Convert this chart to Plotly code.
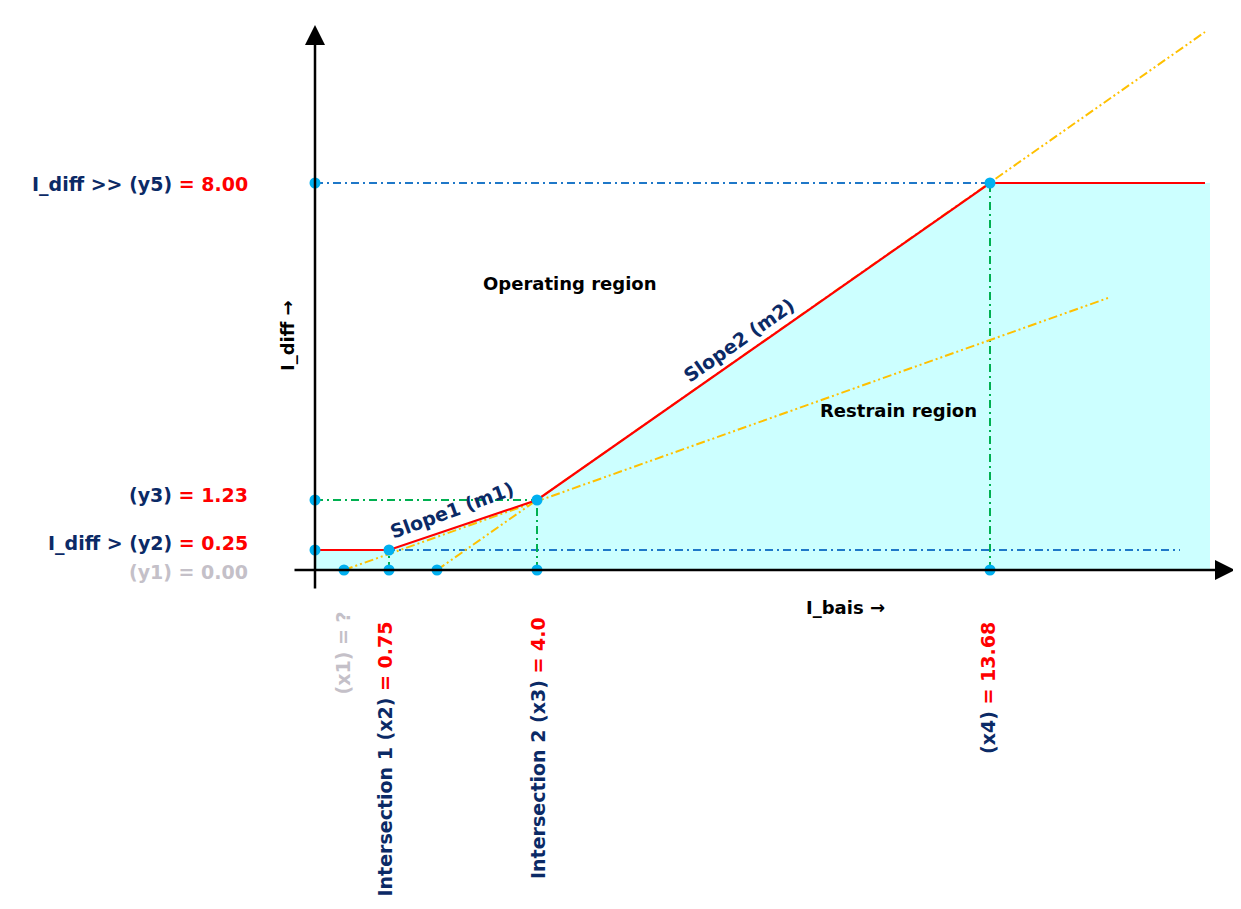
import plotly.graph_objects as go

# ---- schematic positions (diagram units; origin = axes crossing) ----
x_pts = {"x1": 2.9, "x2": 7.4, "xk": 12.2, "x3": 22.2, "x4": 67.5}
y_pts = {"y1": 0.0, "y2": 2.0, "y3": 7.0, "y5": 38.7}
x_end_red = 89.0
x_end_fill = 89.5
x_end_blue = 86.5
x_axis_span = [-2.2, 92.0]
y_axis_span = [-2.0, 54.5]
orange1 = ([2.9, 79.3], [0.0, 27.2])
orange2 = ([12.2, 89.0], [0.0, 53.8])

# ---- label values ----
val_labels_y = [("I_diff >> (y5)", "= 8.00", "y5"),
                ("(y3)", "= 1.23", "y3"),
                ("I_diff > (y2)", "= 0.25", "y2")]
y1_label = "(y1) = 0.00"
x1_label = "(x1) = ?"
x_val_labels = [("Intersection 1 (x2)", "= 0.75", "x2"),
                ("Intersection 2 (x3)", "= 4.0", "x3"),
                ("(x4)", "= 13.68", "x4")]

NAVY = "#0b2a66"
RED = "#ff0000"
GRAY = "#c4c0c8"
CYAN = "#ccffff"
BLUE = "#1f78c8"
GREEN = "#00b050"
ORANGE = "#ffc000"
MARK = "#00b0f0"
FONT = "DejaVu Sans"
LS = 19   # label font size
RS = 18   # region font size

X2, X3, X4 = x_pts["x2"], x_pts["x3"], x_pts["x4"]
Y2, Y3, Y5 = y_pts["y2"], y_pts["y3"], y_pts["y5"]

fig = go.Figure()

# restrain region fill
fig.add_trace(go.Scatter(
    x=[0, 0, X2, X3, X4, x_end_fill, x_end_fill, 0],
    y=[0, Y2, Y2, Y3, Y5, Y5, 0, 0],
    fill="toself", fillcolor=CYAN, line=dict(width=0), mode="lines",
    hoverinfo="skip"))

dash_bd = "8px,4px,2px,4px"
for yy in (Y5, Y2):
    fig.add_trace(go.Scatter(x=[0, x_end_blue], y=[yy, yy], mode="lines",
                             line=dict(color=BLUE, width=2, dash=dash_bd)))
for xs, ys in (([0, X3], [Y3, Y3]), ([X3, X3], [0, Y3]),
               ([X4, X4], [0, Y5]), ([X2, X2], [0, Y2])):
    fig.add_trace(go.Scatter(x=xs, y=ys, mode="lines",
                             line=dict(color=GREEN, width=2, dash=dash_bd)))
dash_o = "9px,3px,2px,3px,2px,3px"
for xs, ys in (orange1, orange2):
    fig.add_trace(go.Scatter(x=xs, y=ys, mode="lines",
                             line=dict(color=ORANGE, width=2, dash=dash_o)))
fig.add_trace(go.Scatter(x=[0, X2, X3, X4, x_end_red], y=[Y2, Y2, Y3, Y5, Y5],
                         mode="lines", line=dict(color=RED, width=2.2)))

mx = [0, 0, 0, X2, X3, X4] + [x_pts[k] for k in ("x1", "x2", "xk", "x3", "x4")]
my = [Y2, Y3, Y5, Y2, Y3, Y5] + [0] * 5
fig.add_trace(go.Scatter(x=mx, y=my, mode="markers",
                         marker=dict(color=MARK, size=11)))

ann = []
ann.append(dict(x=x_axis_span[1], y=0, ax=x_axis_span[0], ay=0, xref="x", yref="y",
                axref="x", ayref="y", showarrow=True, arrowhead=2, arrowsize=1.6,
                arrowwidth=2.5, arrowcolor="black", text=""))
ann.append(dict(x=0, y=y_axis_span[1], ax=0, ay=y_axis_span[0], xref="x", yref="y",
                axref="x", ayref="y", showarrow=True, arrowhead=2, arrowsize=1.6,
                arrowwidth=2.5, arrowcolor="black", text=""))

f = dict(family=FONT, size=LS)
y_off = {"y5": -0.1, "y3": 0.5, "y2": 0.7}
for name, val, key in val_labels_y:
    ann.append(dict(x=-6.5, y=y_pts[key] + y_off[key], xref="x", yref="y",
                    xanchor="right", yanchor="middle", showarrow=False,
                    text=f"<b><span style='color:{NAVY}'>{name}</span> "
                         f"<span style='color:{RED}'>{val}</span></b>",
                    font=f))
ann.append(dict(x=-6.5, y=y_pts["y1"] - 0.2, xref="x", yref="y", xanchor="right",
                yanchor="middle", showarrow=False, text=f"<b>{y1_label}</b>",
                font=dict(family=FONT, size=LS, color=GRAY)))

ann.append(dict(x=x_pts["x1"] - 0.2, y=-4.0, xref="x", yref="y", xanchor="center",
                yanchor="top", textangle=-90, showarrow=False,
                text=f"<b>{x1_label}</b>", font=dict(family=FONT, size=LS, color=GRAY)))
tops = {"x2": -5.0, "x3": -4.5, "x4": -5.0}
xoff = {"x2": -0.5, "x3": 0.1, "x4": -0.2}
for name, val, key in x_val_labels:
    ann.append(dict(x=x_pts[key] + xoff[key], y=tops[key], xref="x", yref="y",
                    xanchor="center", yanchor="top", textangle=-90, showarrow=False,
                    text=f"<b><span style='color:{NAVY}'>{name}</span> "
                         f"<span style='color:{RED}'>{val}</span></b>",
                    font=f))

ann.append(dict(x=25.4, y=28.7, xref="x", yref="y", showarrow=False,
                text="<b>Operating region</b>", font=dict(family=FONT, size=RS, color="black")))
ann.append(dict(x=58.3, y=16.0, xref="x", yref="y", showarrow=False,
                text="<b>Restrain region</b>", font=dict(family=FONT, size=RS, color="black")))
ann.append(dict(x=13.7, y=6.0, xref="x", yref="y", showarrow=False, textangle=-20,
                text="<b>Slope1 (m1)</b>", font=dict(family=FONT, size=19, color=NAVY)))
ann.append(dict(x=42.4, y=23.0, xref="x", yref="y", showarrow=False, textangle=-35,
                text="<b>Slope2 (m2)</b>", font=dict(family=FONT, size=19, color=NAVY)))
ann.append(dict(x=-2.8, y=23.4, xref="x", yref="y", showarrow=False, textangle=-90,
                text="<b>I_diff →</b>", font=dict(family=FONT, size=RS, color="black")))
ann.append(dict(x=53.0, y=-3.7, xref="x", yref="y", showarrow=False,
                text="<b>I_bais →</b>", font=dict(family=FONT, size=RS, color="black")))

fig.update_layout(
    width=1233, height=901, margin=dict(l=0, r=0, t=0, b=0),
    paper_bgcolor="white", plot_bgcolor="white", showlegend=False,
    xaxis=dict(range=[-30.7, 92.6], visible=False, fixedrange=True),
    yaxis=dict(range=[-33.9, 56.2], visible=False, fixedrange=True),
    annotations=ann,
)

fig.write_html("out.html")
